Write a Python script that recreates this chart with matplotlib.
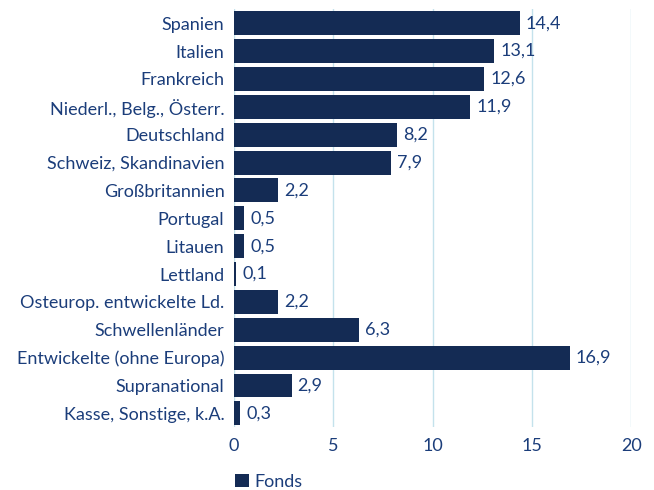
import matplotlib
matplotlib.use("Agg")
import matplotlib.pyplot as plt
from matplotlib.patches import Patch

categories = ["Spanien", "Italien", "Frankreich", "Niederl., Belg., Österr.", "Deutschland",
              "Schweiz, Skandinavien", "Großbritannien", "Portugal", "Litauen", "Lettland",
              "Osteurop. entwickelte Ld.", "Schwellenländer", "Entwickelte (ohne Europa)",
              "Supranational", "Kasse, Sonstige, k.A."]
values = [14.4, 13.1, 12.6, 11.9, 8.2, 7.9, 2.2, 0.5, 0.5, 0.1, 2.2, 6.3, 16.9, 2.9, 0.3]
xticks = [0, 5, 10, 15, 20]
series_name = "Fonds"

bar_color = "#142b54"
text_color = "#1b3d7a"
grid_color = "#c4e2ec"

plt.rcParams['font.family'] = ['Lato', 'DejaVu Sans']
fs = 13

fig = plt.figure(figsize=(6.54, 4.90), dpi=100)
ax = fig.add_axes([0.358, 0.128, 0.607, 0.853])

y = list(range(len(categories)))
ax.barh(y, values, height=0.86, color=bar_color, zorder=3)
for yi, v in zip(y, values):
    ax.text(v + 0.3, yi, f"{v:.1f}".replace(".", ","), va="center", ha="left",
            color=text_color, fontsize=fs, zorder=4)

ax.set_yticks(y)
ax.set_yticklabels(categories, fontsize=fs, color=text_color)
ax.set_ylim(len(categories) - 0.5, -0.5)
ax.set_xlim(0, 20)
ax.set_xticks(xticks)
ax.set_xticklabels([str(t) for t in xticks], fontsize=fs, color=text_color)
ax.tick_params(axis="both", length=0)
ax.tick_params(axis="y", pad=7)
ax.tick_params(axis="x", pad=8)
ax.grid(axis="x", color=grid_color, linewidth=1, zorder=0)
for s in ax.spines.values():
    s.set_visible(False)

handles = [Patch(facecolor=bar_color, edgecolor="none", label=series_name)]
fig.legend(handles=handles, loc="lower left", bbox_to_anchor=(0.335, -0.033), frameon=False,
           fontsize=fs, labelcolor=text_color, handlelength=0.75, handleheight=0.75,
           handletextpad=0.3)

fig.savefig("out.png", dpi=100)
